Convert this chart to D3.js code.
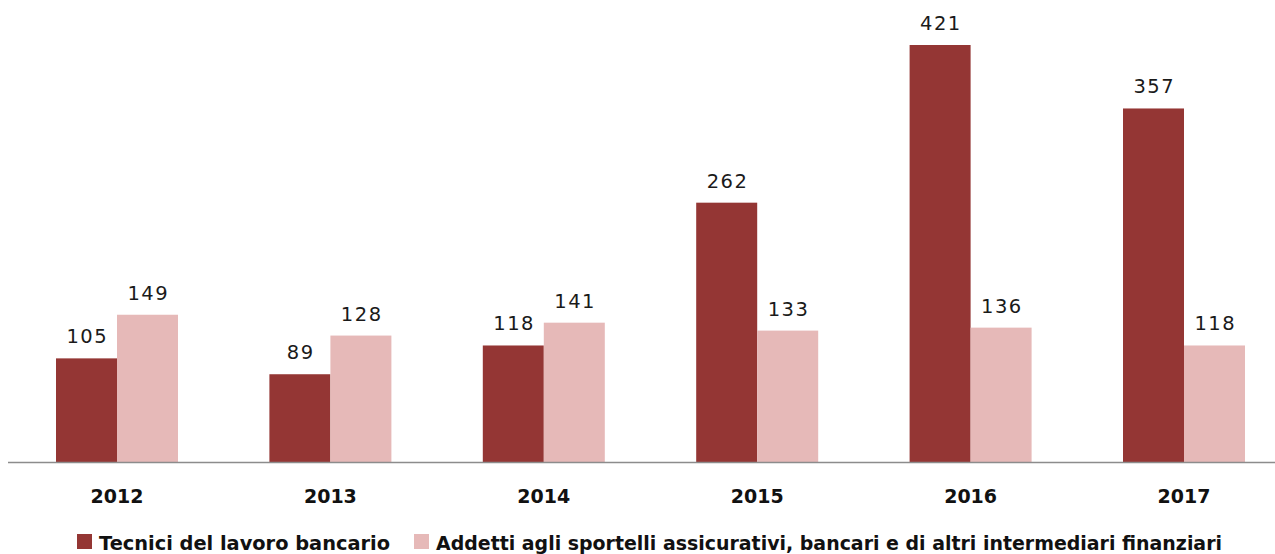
<!DOCTYPE html>
<html><head><meta charset="utf-8">
<script src="https://cdn.jsdelivr.net/npm/d3@7/dist/d3.min.js"></script>
<style>body{margin:0;background:#fff}svg{display:block}</style>
</head><body>
<svg id="c" width="1275" height="554"></svg>
<script>
const years = ["2012","2013","2014","2015","2016","2017"];
const seriesNames = ["Tecnici del lavoro bancario","Addetti agli sportelli assicurativi, bancari e di altri intermediari finanziari"];
const tecnici = [105, 89, 118, 262, 421, 357];
const addetti = [149, 128, 141, 133, 136, 118];
const colors = ["#943634", "#E6B9B8"];

const svg = d3.select("#c");
const baseY = 462.5;
const x0 = d3.scaleBand().domain(years).range([10.3, 1290.7]).padding(0);
const bw = x0.bandwidth();
const x1 = d3.scaleBand().domain([0,1]).range([bw/2 - 61, bw/2 + 61]).padding(0);
const y = d3.scaleLinear().domain([0, 421]).range([baseY, 45]);

const data = [tecnici, addetti];
const g = svg.append("g");
years.forEach((yr, i) => {
  const grp = g.append("g").attr("transform", `translate(${x0(yr)},0)`);
  data.forEach((s, k) => {
    grp.append("rect")
      .attr("x", x1(k)).attr("width", x1.bandwidth())
      .attr("y", y(s[i])).attr("height", baseY - y(s[i]))
      .attr("fill", colors[k]);
    grp.append("text")
      .attr("x", x1(k) + x1.bandwidth()/2 + 0.8).attr("y", y(s[i]) - 15)
      .attr("text-anchor", "middle")
      .attr("font-family", "DejaVu Sans").attr("font-size", 19.5)
      .attr("letter-spacing", "1.5px")
      .attr("fill", "#1a1a1a")
      .text(s[i]);
  });
});

// baseline axis
svg.append("line").attr("x1", 8).attr("x2", 1275).attr("y1", baseY).attr("y2", baseY)
  .attr("stroke", "#8c8c8c").attr("stroke-width", 1.6);

// category labels via axis
const ax = svg.append("g").attr("transform", `translate(0,${baseY})`)
  .call(d3.axisBottom(x0).tickSize(0).tickPadding(0));
ax.select(".domain").remove();
ax.selectAll("text")
  .attr("y", 40.5).attr("dy", 0)
  .attr("font-family", "DejaVu Sans").attr("font-weight", "bold")
  .attr("font-size", 19).attr("fill", "#111");

// legend
const leg = [{x:77, tx:99, w:291}, {x:414, tx:436, w:786}];
leg.forEach((l, k) => {
  svg.append("rect").attr("x", l.x).attr("y", 534).attr("width", 15).attr("height", 15).attr("fill", colors[k]);
  svg.append("text").attr("x", l.tx).attr("y", 550)
    .attr("font-family", "DejaVu Sans").attr("font-weight", "bold").attr("font-size", 19)
    .attr("fill", "#111")
    .attr("textLength", l.w).attr("lengthAdjust", "spacingAndGlyphs")
    .text(seriesNames[k]);
});
</script>
</body></html>
